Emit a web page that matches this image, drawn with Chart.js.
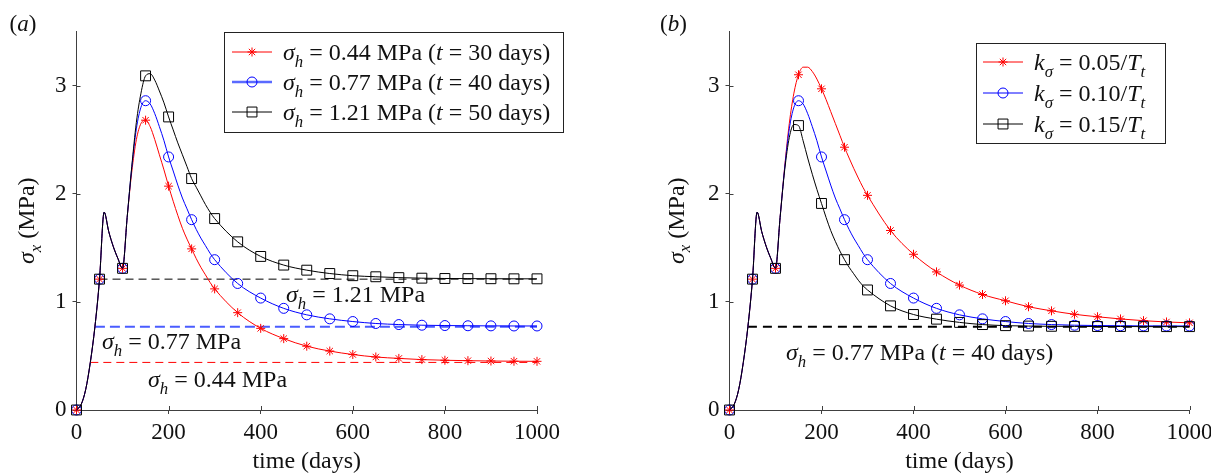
<!DOCTYPE html>
<html>
<head>
<meta charset="utf-8">
<script src="https://cdn.jsdelivr.net/npm/chart.js@4.4.1/dist/chart.umd.min.js"></script>
<style>
    html, body { margin: 0; padding: 0; background: #fff; }
    #wrap { position: relative; width: 1211px; height: 476px; overflow: hidden; }
    canvas { position: absolute; top: 0; }
    #chartA { left: 0; }
    #chartB { left: 605px; }
</style>
</head>
<body>
<div id="wrap">
    <canvas id="chartA" width="605" height="476"></canvas>
    <canvas id="chartB" width="606" height="476"></canvas>
</div>
<script>
// --- 1. Data ---
const tDays = [0, 10, 20, 30, 40, 50, 60, 70, 80, 90, 100,
    110, 120, 130, 140, 150, 160, 170, 180, 190, 200,
    210, 220, 230, 240, 250, 260, 270, 280, 290, 300,
    350, 400, 450, 500, 550, 600, 650, 700, 750, 800, 850, 900, 950, 1000];

// (a) different horizontal stress
const redA = [0, 0.05, 0.19, 0.44, 0.77, 1.21, 1.83, 1.65, 1.51, 1.40, 1.31,
    1.78, 2.20, 2.50, 2.65, 2.68, 2.62, 2.50, 2.36, 2.22, 2.07,
    1.93, 1.80, 1.68, 1.58, 1.49, 1.40, 1.32, 1.25, 1.18, 1.12,
    0.90, 0.755, 0.66, 0.59, 0.545, 0.513, 0.49, 0.477, 0.466, 0.46, 0.456, 0.453, 0.451, 0.45];
const blueA = [0, 0.05, 0.19, 0.44, 0.77, 1.21, 1.83, 1.65, 1.51, 1.40, 1.31,
    1.78, 2.24, 2.60, 2.80, 2.86, 2.83, 2.74, 2.62, 2.49, 2.34,
    2.21, 2.08, 1.96, 1.86, 1.76, 1.67, 1.59, 1.52, 1.45, 1.39,
    1.17, 1.035, 0.94, 0.88, 0.843, 0.818, 0.80, 0.79, 0.784, 0.781, 0.779, 0.778, 0.777, 0.777];
const blackA = [0, 0.05, 0.19, 0.44, 0.77, 1.21, 1.83, 1.65, 1.51, 1.40, 1.31,
    1.78, 2.25, 2.66, 2.93, 3.09, 3.11, 3.05, 2.95, 2.84, 2.71,
    2.59, 2.47, 2.36, 2.25, 2.14, 2.06, 1.98, 1.90, 1.83, 1.77,
    1.555, 1.42, 1.34, 1.293, 1.262, 1.242, 1.232, 1.224, 1.219, 1.216, 1.215, 1.214, 1.213, 1.213];

// (b) different k_sigma (0.10/Tt is the same curve as blueA)
const redB = [0, 0.05, 0.19, 0.44, 0.77, 1.21, 1.83, 1.65, 1.51, 1.40, 1.31,
    1.78, 2.25, 2.65, 2.93, 3.10, 3.17, 3.17, 3.13, 3.06, 2.97,
    2.87, 2.76, 2.65, 2.54, 2.43, 2.33, 2.235, 2.145, 2.06, 1.985,
    1.66, 1.44, 1.277, 1.155, 1.068, 1.01, 0.955, 0.917, 0.885, 0.862, 0.842, 0.826, 0.814, 0.806];
const blueB = blueA;
const blackB = [0, 0.05, 0.19, 0.44, 0.77, 1.21, 1.83, 1.65, 1.51, 1.40, 1.31,
    1.78, 2.22, 2.52, 2.64, 2.63, 2.49, 2.33, 2.18, 2.04, 1.91,
    1.78, 1.66, 1.56, 1.47, 1.39, 1.32, 1.26, 1.20, 1.15, 1.11,
    0.963, 0.883, 0.84, 0.81, 0.79, 0.78, 0.776, 0.774, 0.773, 0.772, 0.772, 0.771, 0.771, 0.771];

// horizontal stress levels and the day they are reached
const hStressA = [0.44, 0.77, 1.21];
const hStartA = [30, 40, 50];
const hStressB = [0.77];
const hStartB = [40];

const xTicks = [0, 200, 400, 600, 800, 1000];
const yTicks = [0, 1, 2, 3];

// --- 2. Helpers ---
const serif = '"Liberation Serif", "DejaVu Serif", "Times New Roman", serif';
const axisColor = '#404040';
const markerEvery = 50;

function pts(arr) {
    return tDays.map((t, i) => ({ x: t, y: arr[i] }));
}

function series(arr, color, style, r) {
    return {
        data: pts(arr),
        borderColor: color,
        borderWidth: 1,
        pointStyle: style,
        pointRadius: tDays.map(t => t % markerEvery === 0 ? r : 0),
        pointBorderColor: color,
        pointBackgroundColor: 'rgba(0,0,0,0)',
        pointBorderWidth: 1,
        cubicInterpolationMode: 'monotone',
        fill: false,
        clip: false
    };
}

function dashed(start, value, color, width, dash) {
    return {
        data: [{ x: start, y: value }, { x: 1000, y: value }],
        borderColor: color,
        borderWidth: width,
        borderDash: dash,
        pointRadius: 0,
        fill: false
    };
}

// text with italic pieces and subscripts, y = baseline
function rich(ctx, x, y, parts, size, draw = true) {
    let cx = x;
    parts.forEach(p => {
        const s = p.sub ? size * 0.7 : size;
        ctx.font = (p.it ? 'italic ' : '') + s + 'px ' + serif;
        if (draw) ctx.fillText(p.t, cx, y + (p.sub ? size * 0.28 : 0));
        cx += ctx.measureText(p.t).width;
    });
    return cx - x;
}

function drawMark(ctx, style, x, y, r, color) {
    ctx.save();
    ctx.strokeStyle = color;
    ctx.lineWidth = 1;
    ctx.beginPath();
    if (style === 'circle') {
        ctx.arc(x, y, r, 0, Math.PI * 2);
    } else if (style === 'rect') {
        const s = r * Math.SQRT1_2;
        ctx.rect(x - s, y - s, 2 * s, 2 * s);
    } else {
        for (let k = 0; k < 4; k++) {
            const a = k * Math.PI / 4;
            ctx.moveTo(x - r * Math.cos(a), y - r * Math.sin(a));
            ctx.lineTo(x + r * Math.cos(a), y + r * Math.sin(a));
        }
    }
    ctx.stroke();
    ctx.restore();
}

function drawLegend(ctx, box, rows) {
    ctx.save();
    ctx.fillStyle = '#fff';
    ctx.fillRect(box.x, box.y, box.w, box.h);
    ctx.strokeStyle = '#222';
    ctx.lineWidth = 1;
    ctx.strokeRect(box.x + 0.5, box.y + 0.5, box.w, box.h);
    rows.forEach(r => {
        ctx.strokeStyle = r.lineColor;
        ctx.lineWidth = r.lineWidth;
        ctx.beginPath();
        ctx.moveTo(box.lx0, r.y);
        ctx.lineTo(box.lx1, r.y);
        ctx.stroke();
        drawMark(ctx, r.style, (box.lx0 + box.lx1) / 2, r.y, r.r, r.color);
        ctx.fillStyle = '#111';
        rich(ctx, box.tx, r.y + 8, r.parts, 24);
    });
    ctx.restore();
}

const sigH = [{ t: 'σ', it: true }, { t: 'h', it: true, sub: true }];

// inner half of the tick marks (pgfplots style ticks cross the axis)
const innerTicks = {
    id: 'innerTicks',
    beforeDatasetsDraw(chart) {
        const { ctx, chartArea: a, scales: { x, y } } = chart;
        ctx.save();
        ctx.strokeStyle = axisColor;
        ctx.lineWidth = 1;
        ctx.beginPath();
        x.ticks.forEach(t => {
            const px = Math.round(x.getPixelForValue(t.value)) + 0.5;
            ctx.moveTo(px, a.bottom);
            ctx.lineTo(px, a.bottom - 4);
        });
        y.ticks.forEach(t => {
            const py = Math.round(y.getPixelForValue(t.value)) + 0.5;
            ctx.moveTo(a.left, py);
            ctx.lineTo(a.left + 4, py);
        });
        ctx.stroke();
        ctx.restore();
    }
};

function baseOptions(padLeft, padRight) {
    const tickFont = { family: serif, size: 23 };
    return {
        responsive: false,
        animation: false,
        events: [],
        layout: { padding: { left: padLeft, right: padRight, top: 31.5, bottom: 0 } },
        plugins: { legend: { display: false }, tooltip: { enabled: false } },
        scales: {
            x: {
                type: 'linear', min: 0, max: 1000,
                afterBuildTicks: s => { s.ticks = xTicks.map(v => ({ value: v })); },
                ticks: { font: tickFont, color: '#111', padding: 5, maxRotation: 0, autoSkip: false, callback: v => String(v) },
                grid: { drawOnChartArea: false, tickLength: 4, color: axisColor },
                border: { color: axisColor, width: 1 },
                afterFit: s => { s.height = 66; s.paddingLeft = 0; s.paddingRight = 0; }
            },
            y: {
                type: 'linear', min: 0, max: 3.5,
                afterBuildTicks: s => { s.ticks = yTicks.map(v => ({ value: v })); },
                ticks: { font: tickFont, color: '#111', padding: 6, callback: v => String(v) },
                grid: { drawOnChartArea: false, tickLength: 4, color: axisColor },
                border: { color: axisColor, width: 1 },
                afterFit: s => { s.width = 76.5; s.paddingTop = 0; s.paddingBottom = 0; }
            }
        }
    };
}

function axisTitles(chart, panel, yBase) {
    const { ctx, chartArea: a } = chart;
    ctx.save();
    ctx.fillStyle = '#111';
    // panel label
    rich(ctx, panel.x, 30.5, [{ t: '(' }, { t: panel.t, it: true }, { t: ')' }], 23);
    // x title
    ctx.font = '24px ' + serif;
    const tw = ctx.measureText('time (days)').width;
    ctx.fillText('time (days)', (a.left + a.right) / 2 - tw / 2, 468);
    // y title, rotated
    const parts = [{ t: 'σ', it: true }, { t: 'x', it: true, sub: true }, { t: ' (MPa)' }];
    ctx.translate(yBase, (a.top + a.bottom) / 2);
    ctx.rotate(-Math.PI / 2);
    const w = rich(ctx, 0, 0, parts, 24, false);
    rich(ctx, -w / 2, 0, parts, 24);
    ctx.restore();
}

// --- 3. Panel (a) --- (first dataset is drawn on top)
new Chart(document.getElementById('chartA'), {
    type: 'line',
    data: {
        datasets: [
            series(blackA, '#000000', 'rect', 7),
            series(blueA, '#0000ff', 'circle', 5),
            series(redA, '#ff0000', 'star', 4.5),
            dashed(hStartA[0], hStressA[0], '#ff0000', 1, [8, 5]),
            dashed(hStartA[1], hStressA[1], '#4a5cff', 2, [10, 5]),
            dashed(hStartA[2], hStressA[2], '#000000', 1, [8, 5])
        ]
    },
    options: baseOptions(0, 68),
    plugins: [innerTicks, {
        id: 'decoA',
        afterDraw(chart) {
            const ctx = chart.ctx;
            axisTitles(chart, { x: 9.5, t: 'a' }, 34);
            ctx.save();
            ctx.fillStyle = '#111';
            rich(ctx, 286, 302, sigH.concat([{ t: ' = 1.21 MPa' }]), 24);
            rich(ctx, 102, 349, sigH.concat([{ t: ' = 0.77 MPa' }]), 24);
            rich(ctx, 148, 387, sigH.concat([{ t: ' = 0.44 MPa' }]), 24);
            ctx.restore();
            drawLegend(ctx, { x: 224, y: 32, w: 339, h: 100, lx0: 232, lx1: 272, tx: 283 }, [
                { y: 52, lineColor: '#ff0000', lineWidth: 1, style: 'star', r: 4.5, color: '#ff0000',
                    parts: sigH.concat([{ t: ' = 0.44 MPa (' }, { t: 't', it: true }, { t: ' = 30 days)' }]) },
                { y: 82, lineColor: '#5a6aff', lineWidth: 2.5, style: 'circle', r: 5, color: '#0000ff',
                    parts: sigH.concat([{ t: ' = 0.77 MPa (' }, { t: 't', it: true }, { t: ' = 40 days)' }]) },
                { y: 112, lineColor: '#000000', lineWidth: 1, style: 'rect', r: 7, color: '#000000',
                    parts: sigH.concat([{ t: ' = 1.21 MPa (' }, { t: 't', it: true }, { t: ' = 50 days)' }]) }
            ]);
        }
    }]
});

// --- 4. Panel (b) ---
const kSig = v => [{ t: 'k', it: true }, { t: 'σ', it: true, sub: true }, { t: ' = ' + v + '/' }, { t: 'T', it: true }, { t: 't', it: true, sub: true }];

new Chart(document.getElementById('chartB'), {
    type: 'line',
    data: {
        datasets: [
            series(blackB, '#000000', 'rect', 7),
            series(blueB, '#0000ff', 'circle', 5),
            series(redB, '#ff0000', 'star', 4.5),
            dashed(hStartB[0], hStressB[0], '#000000', 2, [9, 6])
        ]
    },
    options: baseOptions(48, 21.5),
    plugins: [innerTicks, {
        id: 'decoB',
        afterDraw(chart) {
            const ctx = chart.ctx;
            axisTitles(chart, { x: 55, t: 'b' }, 78.5);
            ctx.save();
            ctx.fillStyle = '#111';
            rich(ctx, 181, 360, sigH.concat([{ t: ' = 0.77 MPa (' }, { t: 't', it: true }, { t: ' = 40 days)' }]), 24);
            ctx.restore();
            drawLegend(ctx, { x: 371, y: 43, w: 189, h: 100, lx0: 378, lx1: 418, tx: 429 }, [
                { y: 62, lineColor: '#ff0000', lineWidth: 1, style: 'star', r: 4.5, color: '#ff0000', parts: kSig('0.05') },
                { y: 93, lineColor: '#0000ff', lineWidth: 1, style: 'circle', r: 5, color: '#0000ff', parts: kSig('0.10') },
                { y: 124, lineColor: '#000000', lineWidth: 1, style: 'rect', r: 7, color: '#000000', parts: kSig('0.15') }
            ]);
        }
    }]
});
</script>
</body>
</html>
